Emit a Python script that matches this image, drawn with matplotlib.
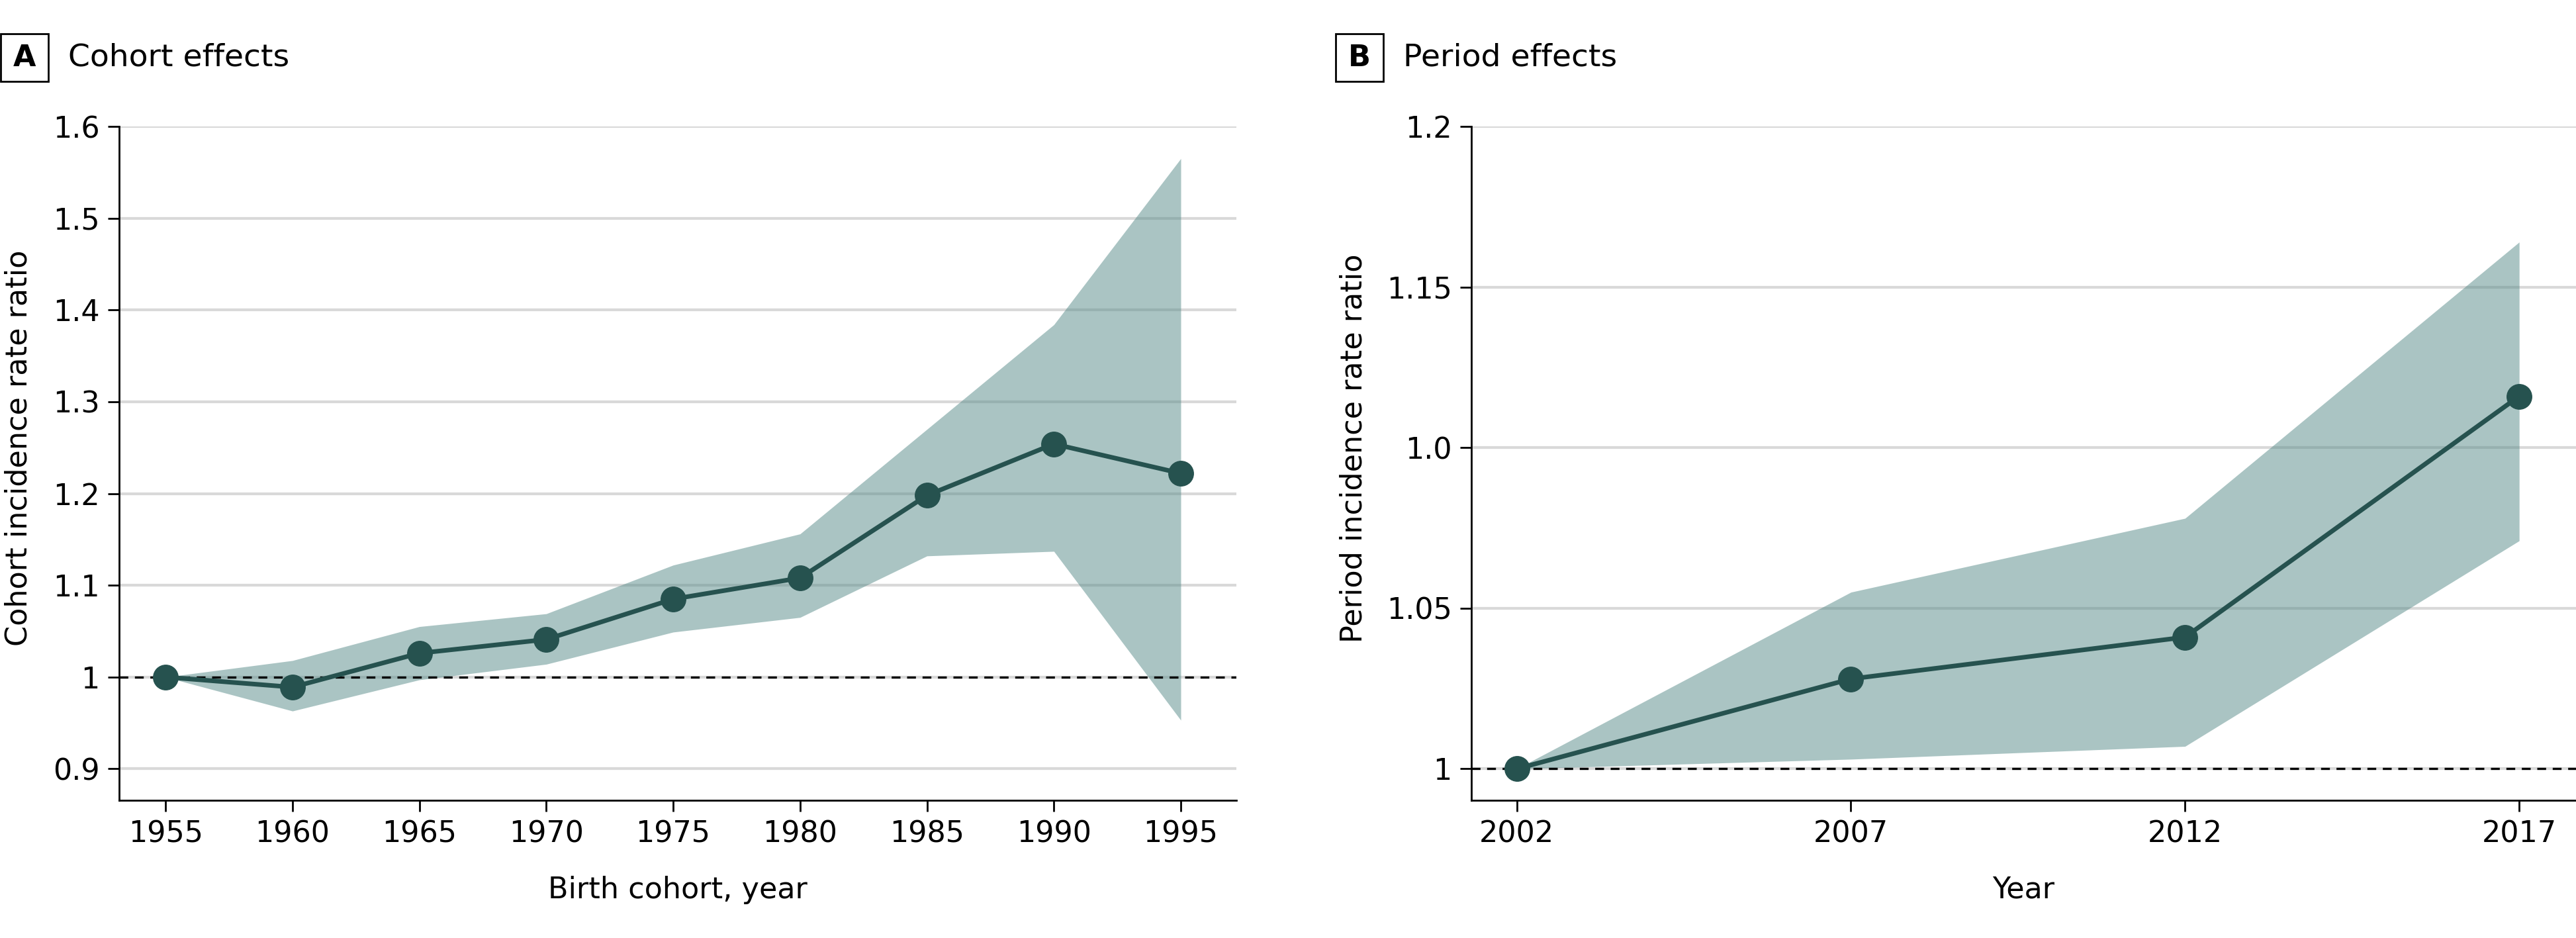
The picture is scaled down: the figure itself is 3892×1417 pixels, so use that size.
import matplotlib
matplotlib.use("Agg")
import matplotlib.pyplot as plt
from matplotlib.patches import Rectangle

# Panel A - cohort effects
cohort_years = [1955, 1960, 1965, 1970, 1975, 1980, 1985, 1990, 1995]
cohort_irr = [1.000, 0.989, 1.026, 1.041, 1.085, 1.108, 1.198, 1.254, 1.222]
cohort_upper = [1.000, 1.018, 1.055, 1.069, 1.122, 1.156, 1.270, 1.384, 1.565]
cohort_lower = [1.000, 0.963, 0.997, 1.014, 1.049, 1.065, 1.132, 1.137, 0.953]
cohort_yticks = [0.9, 1.0, 1.1, 1.2, 1.3, 1.4, 1.5, 1.6]
cohort_ylabels = ["0.9", "1", "1.1", "1.2", "1.3", "1.4", "1.5", "1.6"]

# Panel B - period effects
period_years = [2002, 2007, 2012, 2017]
period_irr = [1.000, 1.028, 1.041, 1.116]
period_upper = [1.000, 1.055, 1.078, 1.164]
period_lower = [1.000, 1.003, 1.007, 1.071]
period_yticks = [1.0, 1.05, 1.1, 1.15, 1.2]
period_ylabels = ["1", "1.05", "1.0", "1.15", "1.2"]

W, H = 3892, 1417
LINE = "#26524f"
BAND = "#578b89"
GRID = "#d9d9d9"

plt.rcParams["font.family"] = ["DejaVu Sans"]

fig = plt.figure(figsize=(W / 100, H / 100), dpi=100)


def px_rect(left, right, top, bottom):
    return [left / W, 1 - bottom / H, (right - left) / W, (bottom - top) / H]


def draw_panel(ax, x, y, lo, hi, xlim, ylim, yticks, ylabels, xlabel, ylabel, ylab_x):
    ax.set_xlim(*xlim)
    ax.set_ylim(*ylim)
    for t in yticks:
        ax.axhline(t, color=GRID, lw=3, zorder=1)
    ax.fill_between(x, lo, hi, color=BAND, alpha=0.5, lw=0, zorder=2)
    ax.axhline(1.0, color="black", lw=2.4, ls=(0, (4, 3)), zorder=3)
    ax.plot(x, y, color=LINE, lw=5, marker="o", ms=27, zorder=4)

    ax.set_xticks(x)
    ax.set_xticklabels([str(v) for v in x])
    ax.set_yticks(yticks)
    ax.set_yticklabels(ylabels)
    ax.tick_params(axis="both", length=12, width=2, pad=9, labelsize=32)
    for s in ["top", "right"]:
        ax.spines[s].set_visible(False)
    for s in ["left", "bottom"]:
        ax.spines[s].set_linewidth(2)
    ax.set_xlabel(xlabel, fontsize=32, labelpad=30)
    ax.set_ylabel(ylabel, fontsize=32)
    # label centre sits a bit above the middle of the axis in the original
    ax.yaxis.set_label_coords(ylab_x, 0.5226)


ax1 = fig.add_axes(px_rect(180, 1868, 191, 1209))
draw_panel(ax1, cohort_years, cohort_irr, cohort_lower, cohort_upper,
           (1953.17, 1997.19), (0.8657, 1.6), cohort_yticks, cohort_ylabels,
           "Birth cohort, year", "Cohort incidence rate ratio", (50 - 180) / 1688)

ax2 = fig.add_axes(px_rect(2223, 3892, 191, 1209))
draw_panel(ax2, period_years, period_irr, period_lower, period_upper,
           (2001.32, 2017.85), (0.9902, 1.2), period_yticks, period_ylabels,
           "Year", "Period incidence rate ratio", (2066 - 2223) / 1669)

# Panel letters and titles
for letter, bx, tx, title in [("A", 1, 103, "Cohort effects"), ("B", 2018, 2120, "Period effects")]:
    fig.patches.append(Rectangle((bx / W, 1 - 123 / H), 72 / W, 72 / H,
                                 transform=fig.transFigure, fill=False,
                                 ec="black", lw=2))
    fig.text((bx + 36) / W, 1 - 87 / H, letter, ha="center", va="center",
             fontsize=32, fontweight="bold")
    fig.text(tx / W, 1 - 87 / H, title, ha="left", va="center", fontsize=34)

fig.savefig("out.png", dpi=100, facecolor="white")
